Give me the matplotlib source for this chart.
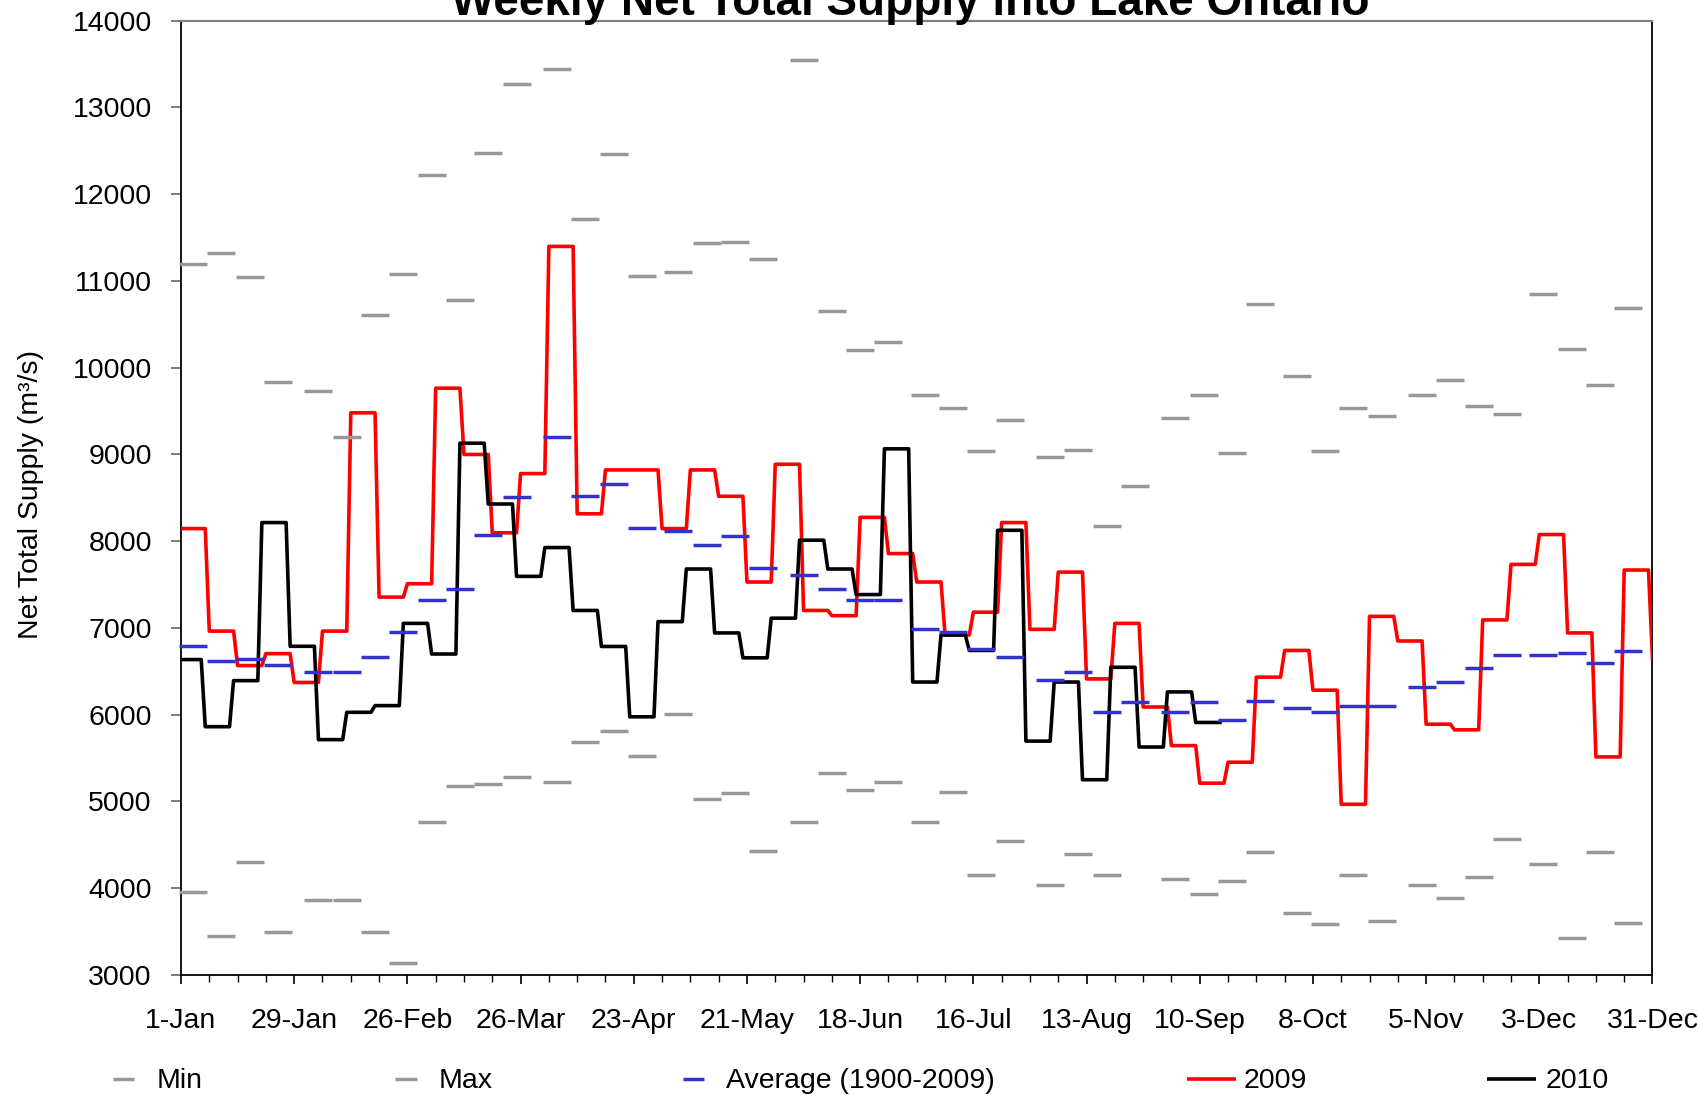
import numpy as np
import matplotlib
matplotlib.use("Agg")
import matplotlib.pyplot as plt
from matplotlib.lines import Line2D

plt.rcParams['font.family'] = ['Liberation Sans', 'DejaVu Sans']

# ---------------- data ----------------
tick_days = [0, 28, 56, 84, 112, 140, 168, 196, 224, 252, 280, 308, 336, 364]
tick_labels = ["1-Jan", "29-Jan", "26-Feb", "26-Mar", "23-Apr", "21-May", "18-Jun",
               "16-Jul", "13-Aug", "10-Sep", "8-Oct", "5-Nov", "3-Dec", "31-Dec"]

month_lengths = [31, 28, 31, 30, 31, 30, 31, 31, 30, 31, 30, 31]

# quarter-monthly historical statistics (48 periods)
max_vals = [11195, 11322, 11041, 9840, 9729, 9207, 10604, 11084, 12219, 10780, 12480, 13267,
            13440, 11717, 12461, 11062, 11103, 11433, 11452, 11256, 13551, 10650, 10209, 10301,
            9687, 9533, 9035, 9403, 8967, 9052, 8178, 8636, 9426, 9687, 9012, 10734,
            9906, 9035, 9533, 9449, 9687, 9863, 9556, 9468, 10846, 10213, 9798, 10692]
min_vals = [3951, 3449, 4304, 3490, 3866, 3866, 3494, 3142, 4765, 5178, 5202, 5287,
            5223, 5684, 5814, 5526, 6012, 5024, 5093, 4433, 4761, 5332, 5134, 5223,
            4761, 5113, 4150, 4543, 4040, 4390, 4152, np.nan, 4109, 3934, 4089, 4413,
            3713, 3583, 4150, 3623, 4040, 3887, 4126, 4563, 4279, 3429, 4413, 3603]
avg_vals = [6798, 6623, 6644, 6579, 6490, 6490, 6664, 6951, 7324, 7453, 8069, 8506,
            9207, 8526, 8660, 8154, 8113, 7960, 8065, 7692, 7607, 7453, 7324, 7324,
            6992, 6951, 6753, 6664, 6405, 6490, 6032, 6142, 6032, 6142, 5943, 6162,
            6077, 6032, 6097, 6097, 6316, 6381, 6534, 6688, 6688, 6709, 6599, 6729]

# weekly values (last 2009 value is 31-Dec)
y2009 = [8146, 6964, 6567, 6704, 6372, 6964, 9480, 7356, 7510, 9764, 9000, 8097, 8780,
         11398, 8316, 8822, 8822, 8146, 8822, 8518, 7530, 8887, 7202, 7142, 8275, 7858,
         7530, 6919, 7182, 8215, 6984, 7644, 6413, 7053, 6089, 5644, 5211, 5453, 6433,
         6741, 6283, 4968, 7134, 6850, 5891, 5826, 7093, 7733, 8077, 6943, 5514, 7668,
         6640]
y2010 = [6636, 5862, 6393, 8215, 6789, 5713, 6028, 6105, 7053, 6700, 9130, 8429, 7595,
         7927, 7202, 6787, 5976, 7073, 7680, 6943, 6656, 7113, 8012, 7680, 7385, 9065,
         6377, 6919, 6741, 8126, 5696, 6377, 5251, 6547, 5628, 6263, 5911]

# ---------------- derived positions ----------------
qm_start = []
m0 = 0
for ml in month_lengths:
    qm_start += [m0, m0 + 7, m0 + 14, m0 + 21]
    m0 += ml
qm_x = np.array(qm_start) + 3

DAYS = 365
v09 = np.repeat(np.array(y2009, float), 7)[:DAYS]
x09 = np.arange(len(v09))
SHIFT_2010 = -1
v10 = np.repeat(np.array(y2010, float), 7)
x10 = np.arange(len(v10)) + SHIFT_2010

# ---------------- figure ----------------
W, H = 1699, 1095
fig = plt.figure(figsize=(W / 100, H / 100), dpi=100)
L, R, T, B = 181, 1652.5, 20.7, 975
ax = fig.add_axes([L / W, 1 - B / H, (R - L) / W, (B - T) / H])

GRAY = '#999999'
BLUE = '#3333CC'
RED = '#FF0000'

ax.plot(x09, v09, color=RED, lw=2.6, zorder=3)
ax.plot(x10, v10, color='black', lw=2.6, zorder=3)

mk = dict(ls='none', marker='_', ms=20.7, mew=2.5, clip_on=False, zorder=4)
ax.plot(qm_x, min_vals, color=GRAY, **mk)
ax.plot(qm_x, max_vals, color=GRAY, **mk)
ax.plot(qm_x, avg_vals, color=BLUE, **mk)

ax.set_xlim(0, 364)
ax.set_ylim(3000, 14000)
ax.set_xticks(tick_days)
ax.set_xticklabels(tick_labels)
ax.set_xticks(np.arange(0, 365, 7), minor=True)
ax.set_yticks(np.arange(3000, 14001, 1000))

ax.tick_params(axis='x', which='major', direction='out', length=6.5, width=1.2,
               pad=17, labelsize=20.5, color='black')
ax.tick_params(axis='x', which='minor', direction='out', length=5, width=1.0, color='black')
ax.tick_params(axis='y', which='major', direction='out', length=7, width=1.2,
               pad=14, labelsize=20.5, color='#666666')
ax.tick_params(axis='y', which='minor', left=False)

for s in ['left', 'right', 'bottom']:
    ax.spines[s].set_color('black')
    ax.spines[s].set_linewidth(1.3)
ax.spines['top'].set_color('#808080')
ax.spines['top'].set_linewidth(1.6)

ax.set_ylabel("Net Total Supply (m³/s)", fontsize=20.5)
ax.yaxis.set_label_coords(-0.093, 0.503)

fig.text(910 / W, 1 - 15 / H, "Weekly Net Total Supply into Lake Ontario",
         ha='center', va='baseline', fontsize=33, fontweight='bold')

# ---------------- legend (manual, one row) ----------------
leg_y = 1 - 1079 / H
txt_y = 1 - 1088 / H
entries = [
    ("Min", GRAY, 112.7, 134.4, 157, 2.5),
    ("Max", GRAY, 395.5, 417.0, 439, 2.5),
    ("Average (1900-2009)", BLUE, 682.6, 704.0, 726, 2.5),
    ("2009", RED, 1186.5, 1236.4, 1244, 2.6),
    ("2010", 'black', 1486.7, 1536.5, 1546, 2.6),
]
for label, col, x0, x1, xt, lw in entries:
    fig.add_artist(Line2D([x0 / W, x1 / W], [leg_y, leg_y], transform=fig.transFigure,
                          color=col, lw=lw, solid_capstyle='butt'))
    fig.text(xt / W, txt_y, label, ha='left', va='baseline', fontsize=20.5)

fig.savefig("out.png", dpi=100)
